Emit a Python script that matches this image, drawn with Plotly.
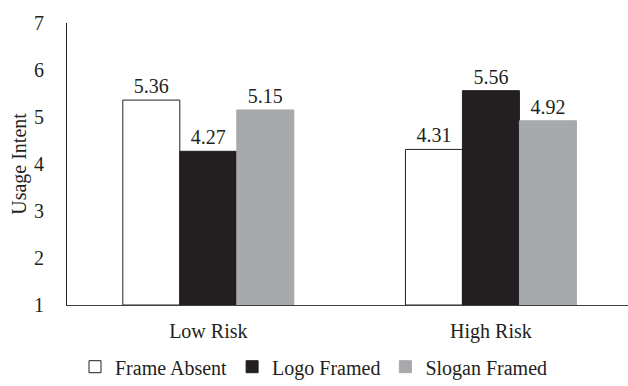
import plotly.graph_objects as go

categories = ["Low Risk", "High Risk"]
series_names = ["Frame Absent", "Logo Framed", "Slogan Framed"]
frame_absent = [5.36, 4.31]
logo_framed = [4.27, 5.56]
slogan_framed = [5.15, 4.92]
y_ticks = [1, 2, 3, 4, 5, 6, 7]

fills = ["#ffffff", "#231f20", "#a7a9ac"]
outlines = ["#231f20", "#231f20", "#a7a9ac"]
font_family = "Liberation Serif, Times New Roman, serif"

fig = go.Figure()
for name, vals, fc, lc in zip(series_names, [frame_absent, logo_framed, slogan_framed], fills, outlines):
    fig.add_trace(go.Bar(
        name=name,
        x=categories,
        y=[v - 1 for v in vals],
        base=1,
        marker=dict(color=fc, line=dict(color=lc, width=1)),
        text=[f"{v:.2f}" for v in vals],
        textposition="outside",
        textfont=dict(family=font_family, size=20, color="#231f20"),
        cliponaxis=False,
    ))

fig.update_layout(
    width=628,
    height=386,
    margin=dict(l=67, r=0, t=23, b=81),
    paper_bgcolor="white",
    plot_bgcolor="white",
    barmode="group",
    bargap=0.395,
    bargroupgap=0,
    font=dict(family=font_family, size=20, color="#231f20"),
    xaxis=dict(
        range=[-0.5, 1.485],
        showline=True,
        linecolor="#404040",
        linewidth=1,
        ticks="",
        showgrid=False,
        tickfont=dict(size=20),
        ticklabelstandoff=8,
    ),
    yaxis=dict(
        range=[1, 7],
        tickvals=y_ticks,
        showline=True,
        linecolor="#231f20",
        linewidth=1,
        ticks="",
        showgrid=False,
        zeroline=False,
        tickfont=dict(size=20),
        ticklabelstandoff=18,
        title=dict(text="Usage Intent", font=dict(size=20), standoff=2),
    ),
    legend=dict(
        orientation="h",
        xref="container",
        x=0.5,
        xanchor="center",
        yref="container",
        y=0.05,
        yanchor="middle",
        font=dict(size=20),
        itemwidth=30,
        traceorder="normal",
    ),
    showlegend=True,
)

fig.write_html("out.html")
